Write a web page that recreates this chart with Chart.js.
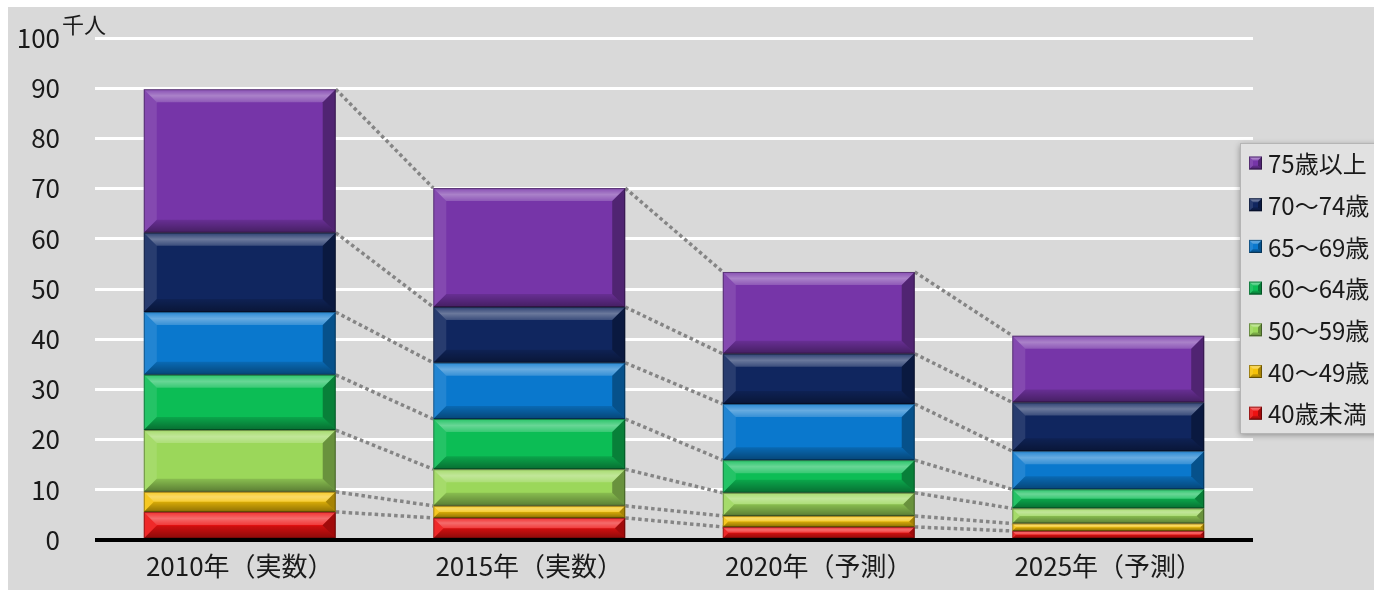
<!DOCTYPE html>
<html lang="ja">
<head>
<meta charset="utf-8">
<title>年齢階層別 人数の推移</title>
<script src="https://cdn.jsdelivr.net/npm/chart.js@4/dist/chart.umd.min.js"></script>
<style>
  html, body { margin: 0; padding: 0; background: #ffffff; overflow: hidden; }
  #wrap { position: absolute; left: 8px; top: 7px; width: 1366px; height: 583px; background: #d9d9d9; }
  canvas { display: block; }
</style>
</head>
<body>
<div id="wrap"><canvas id="c" width="1366" height="583"></canvas></div>
<script>
// Categories (survey year)
const categories = ['2010年（実数）', '2015年（実数）', '2020年（予測）', '2025年（予測）'];

// Values per age group, thousands of people
const under40   = [5.6, 4.4, 2.6, 1.8];
const age40to49 = [4.0, 2.4, 2.2, 1.5];
const age50to59 = [12.3, 7.3, 4.6, 3.0];
const age60to64 = [11.0, 10.0, 6.5, 3.8];
const age65to69 = [12.5, 11.2, 11.2, 7.6];
const age70to74 = [15.8, 11.1, 10.0, 9.7];
const age75plus = [28.6, 23.7, 16.3, 13.3];

// Y axis ticks and unit
const yTicks = [0, 10, 20, 30, 40, 50, 60, 70, 80, 90, 100];
const unitLabel = '千人';

// Series labels (bottom of stack first)
const seriesLabels = ['40歳未満', '40～49歳', '50～59歳', '60～64歳', '65～69歳', '70～74歳', '75歳以上'];
const seriesValues = [under40, age40to49, age50to59, age60to64, age65to69, age70to74, age75plus];
const seriesColors = ['#ee1111', '#f5c208', '#9bd75a', '#0cbd55', '#0a78cd', '#10265f', '#7635a8'];

const FONT = '"Noto Sans CJK JP", "Noto Sans", sans-serif';
const TEXT = '#1a1a1a';

function poly(ctx, pts, fill) {
  ctx.beginPath();
  ctx.moveTo(pts[0][0], pts[0][1]);
  for (let i = 1; i < pts.length; i++) ctx.lineTo(pts[i][0], pts[i][1]);
  ctx.closePath();
  ctx.fillStyle = fill;
  ctx.fill();
}

// Bevelled face drawn on top of a flat rectangle
function bevel(ctx, l, t, r, b, size) {
  const s = Math.max(1, Math.min(size, (b - t) / 2, (r - l) / 2));
  const gTop = ctx.createLinearGradient(0, t, 0, t + s);
  gTop.addColorStop(0, 'rgba(255,255,255,0.12)');
  gTop.addColorStop(0.5, 'rgba(255,255,255,0.38)');
  gTop.addColorStop(1, 'rgba(255,255,255,0.18)');
  poly(ctx, [[l, t], [r, t], [r - s, t + s], [l + s, t + s]], gTop);
  poly(ctx, [[l, t], [l + s, t + s], [l + s, b - s], [l, b]], 'rgba(255,255,255,0.10)');
  poly(ctx, [[r, t], [r, b], [r - s, b - s], [r - s, t + s]], 'rgba(0,0,0,0.32)');
  const gBot = ctx.createLinearGradient(0, b - s, 0, b);
  gBot.addColorStop(0, 'rgba(0,0,0,0.12)');
  gBot.addColorStop(1, 'rgba(0,0,0,0.42)');
  poly(ctx, [[l, b], [r, b], [r - s, b - s], [l + s, b - s]], gBot);
  ctx.strokeStyle = 'rgba(0,0,0,0.35)';
  ctx.lineWidth = 1;
  ctx.strokeRect(l + 0.5, t + 0.5, r - l - 1, b - t - 1);
}

const decorations = {
  id: 'decorations',
  beforeDatasetsDraw(chart) {
    // dotted series lines joining segment tops between neighbouring bars
    const ctx = chart.ctx;
    ctx.save();
    ctx.strokeStyle = '#858585';
    ctx.lineWidth = 3.5;
    ctx.setLineDash([3.5, 3]);
    chart.data.datasets.forEach((ds, d) => {
      const meta = chart.getDatasetMeta(d);
      for (let i = 0; i < meta.data.length - 1; i++) {
        const a = meta.data[i].getProps(['x', 'y', 'width'], true);
        const b = meta.data[i + 1].getProps(['x', 'y', 'width'], true);
        ctx.beginPath();
        ctx.moveTo(a.x + a.width / 2, a.y);
        ctx.lineTo(b.x - b.width / 2, b.y);
        ctx.stroke();
      }
    });
    ctx.restore();
  },
  afterDatasetsDraw(chart) {
    const ctx = chart.ctx;
    ctx.save();
    chart.data.datasets.forEach((ds, d) => {
      const meta = chart.getDatasetMeta(d);
      meta.data.forEach(el => {
        const p = el.getProps(['x', 'y', 'base', 'width'], true);
        const l = p.x - p.width / 2, r = p.x + p.width / 2;
        const t = Math.min(p.y, p.base), b = Math.max(p.y, p.base);
        bevel(ctx, l, t, r, b, 13);
      });
    });
    // zero axis line
    const area = chart.chartArea;
    const y0 = chart.scales.y.getPixelForValue(0);
    ctx.strokeStyle = '#000000';
    ctx.lineWidth = 4;
    ctx.beginPath();
    ctx.moveTo(area.left, y0);
    ctx.lineTo(area.right, y0);
    ctx.stroke();
    ctx.restore();
  },
  afterDraw(chart) {
    const ctx = chart.ctx;
    ctx.save();
    // unit label next to the top tick
    const yTop = chart.scales.y.getPixelForValue(100);
    ctx.fillStyle = TEXT;
    ctx.font = '22px ' + FONT;
    ctx.textBaseline = 'alphabetic';
    ctx.textAlign = 'left';
    ctx.fillText(unitLabel, 54, yTop - 5);

    // legend box (largest age group on top)
    const lx = 1232, ly = 136, lw = 200, lh = 290;
    ctx.shadowColor = 'rgba(0,0,0,0.35)';
    ctx.shadowBlur = 6;
    ctx.shadowOffsetY = 2;
    ctx.fillStyle = '#e1e1e1';
    ctx.fillRect(lx, ly, lw, lh);
    ctx.shadowColor = 'transparent';
    ctx.strokeStyle = '#b5b5b5';
    ctx.lineWidth = 1;
    ctx.strokeRect(lx + 0.5, ly + 0.5, lw, lh);
    const n = chart.data.datasets.length;
    ctx.font = '24px ' + FONT;
    ctx.textBaseline = 'middle';
    for (let k = 0; k < n; k++) {
      const ds = chart.data.datasets[n - 1 - k];
      const cy = ly + 20 + k * 41.7;
      const mx = 1241, ms = 13;
      ctx.fillStyle = ds.backgroundColor;
      ctx.fillRect(mx, cy - ms / 2, ms, ms);
      bevel(ctx, mx, cy - ms / 2, mx + ms, cy + ms / 2, 4);
      ctx.fillStyle = TEXT;
      ctx.fillText(ds.label, 1260, cy + 1);
    }
    ctx.restore();
  }
};

const datasets = seriesLabels.map((label, i) => ({
  label,
  data: seriesValues[i],
  backgroundColor: seriesColors[i],
  borderWidth: 0,
  barPercentage: 0.663,
  categoryPercentage: 1.0
}));

new Chart(document.getElementById('c'), {
  type: 'bar',
  data: { labels: categories, datasets },
  options: {
    responsive: false,
    animation: false,
    layout: { padding: { left: 0, top: 31, right: 121, bottom: 0 } },
    plugins: { legend: { display: false }, tooltip: { enabled: false } },
    scales: {
      x: {
        stacked: true,
        grid: { display: false },
        border: { display: false },
        ticks: { color: TEXT, font: { family: FONT, size: 26 }, padding: 3, maxRotation: 0 },
        afterFit(scale) { scale.height = 50; scale.paddingLeft = 0; scale.paddingRight = 0; }
      },
      y: {
        stacked: true,
        min: 0,
        max: 100,
        afterBuildTicks(scale) { scale.ticks = yTicks.map(v => ({ value: v })); },
        grid: {
          color: ctx => (ctx.tick && ctx.tick.value === 0) ? 'rgba(0,0,0,0)' : '#ffffff',
          lineWidth: 3,
          drawTicks: false
        },
        border: { display: false },
        ticks: { color: TEXT, font: { family: FONT, size: 26 }, padding: 35 },
        afterFit(scale) { scale.width = 87; scale.paddingTop = 0; scale.paddingBottom = 0; }
      }
    }
  },
  plugins: [decorations]
});
</script>
</body>
</html>
